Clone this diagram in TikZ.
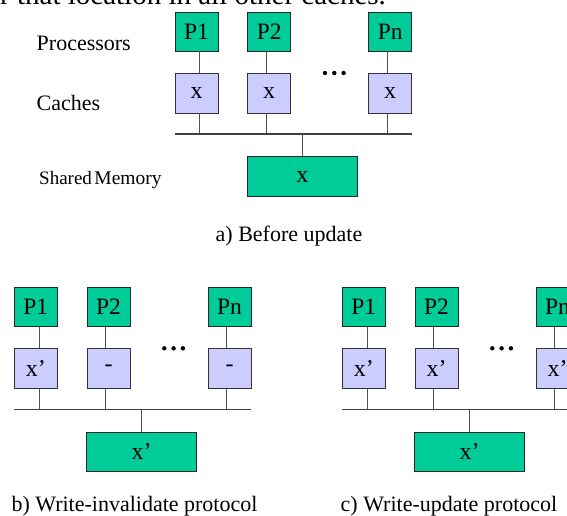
\documentclass[tikz,border=0pt]{standalone}
\usepackage{fontspec}
\setmainfont{Liberation Serif}

\definecolor{procgreen}{HTML}{00CC99}
\definecolor{cachelav}{HTML}{CCCCFF}
\definecolor{wiregray}{HTML}{505050}

\tikzset{
  procbox/.style={draw=black!85, line width=0.9pt, fill=procgreen, inner sep=0pt,
    minimum width=43pt, minimum height=39pt, font=\fontsize{23.5}{26}\selectfont},
  cachebox/.style={draw=black!80, line width=0.9pt, fill=cachelav, inner sep=0pt,
    minimum width=43pt, minimum height=40pt, font=\fontsize{24}{26}\selectfont},
  membox/.style={draw=black!85, line width=0.9pt, fill=procgreen, inner sep=0pt,
    minimum width=109.5pt, minimum height=39.5pt, font=\fontsize{24}{26}\selectfont},
  wire/.style={draw=wiregray, line width=0.9pt},
  busline/.style={draw=black!75, line width=1.3pt},
  sidelabel/.style={anchor=base west, inner sep=0pt, font=\fontsize{22}{26}\selectfont},
  caption/.style={anchor=base, inner sep=0pt, font=\fontsize{22}{26}\selectfont},
}

% One bus-based system: processors, private caches, shared bus, memory.
% #1 name prefix, #2/#3 top-left corner, #4-#6 cache contents, #7 memory content
\newcommand{\bussystem}[7]{%
  \begin{scope}[shift={(#2,#3)}]
    \node[procbox] (#1p1) at (21.5,19.5) {P1};
    \node[procbox] (#1p2) at (94.2,19.5) {P2};
    \node[procbox] (#1pn) at (215.2,19.5) {Pn};
    \node[cachebox] (#1c1) at (21.5,81) {#4};
    \node[cachebox] (#1c2) at (94.2,81) {#5};
    \node[cachebox] (#1cn) at (215.2,81) {#6};
    \coordinate (#1busl) at (0,122);
    \coordinate (#1busr) at (237,122);
    \node[membox] (#1m) at (127.25,164.5) {#7};
    % ellipsis between P2 and Pn
    \fill (150,61) circle (2.2) (159.3,61) circle (2.2) (168.6,61) circle (2.2);
    % processor-to-cache links
    \draw[wire] ([xshift=3.2]#1p1.south) -- ([xshift=3.2]#1c1.north);
    \draw[wire] ([xshift=-3]#1p2.south) -- ([xshift=-3]#1c2.north);
    \draw[wire] ([xshift=-3]#1pn.south) -- ([xshift=-3]#1cn.north);
    % cache-to-bus taps
    \draw[wire] ([xshift=3.2]#1c1.south) -- ([xshift=3.2]#1c1.south |- #1busl);
    \draw[wire] ([xshift=-3]#1c2.south) -- ([xshift=-3]#1c2.south |- #1busl);
    \draw[wire] ([xshift=-3]#1cn.south) -- ([xshift=-3]#1cn.south |- #1busl);
    % shared bus and memory tap
    \draw[busline] (#1busl) -- (#1busr);
    \draw[wire] (#1m.north) -- (#1m.north |- #1busl);
  \end{scope}%
}

\begin{document}
\begin{tikzpicture}[x=1pt,y=-1pt]
  \useasboundingbox (0,0) rectangle (567,515);

  % tail of the preceding text line
  \node[anchor=base west, inner sep=0pt, font=\fontsize{29}{32}\selectfont] (toptext) at (0,4.5)
    {r that location in all other caches.};

  % a) before the write
  \bussystem{a}{175}{12}{x}{x}{x}{x}
  \node[sidelabel] (lproc) at (36.5,50) {Processors};
  \node[sidelabel] (lcache) at (36.5,110) {Caches};
  \node[anchor=base west, inner sep=0pt] (lmem) at (39,184.5)
    {{\fontsize{19}{22}\selectfont Shared} {\fontsize{19.5}{22}\selectfont Memory}};
  \node[caption] (capa) at (289,241) {a) Before update};

  % b) write-invalidate
  \bussystem{b}{14.3}{287.3}{x’}{-}{-}{x’}
  \node[caption] (capb) at (134.5,511.5) {b) Write-invalidate protocol};

  % c) write-update
  \bussystem{c}{342.3}{287.3}{x’}{x’}{x’}{x’}
  \node[caption] (capc) at (449,511.5) {c) Write-update protocol};
\end{tikzpicture}
\end{document}
